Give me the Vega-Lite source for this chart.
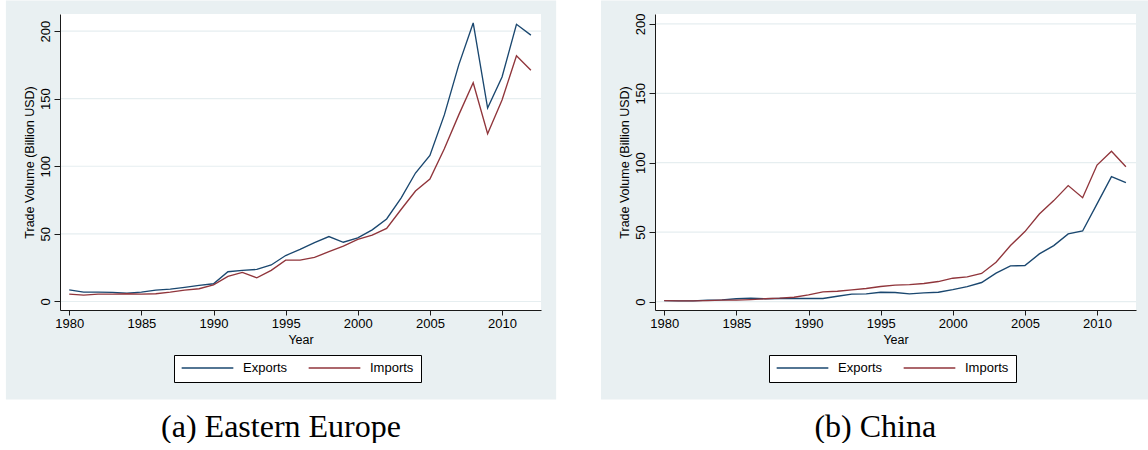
{
  "$schema": "https://vega.github.io/schema/vega-lite/v6.json",
  "background": "white",
  "padding": {"left": 5, "top": 0, "right": 0, "bottom": 0},
  "spacing": 44,
  "datasets": {
    "grid": [{"v": 0}, {"v": 50}, {"v": 100}, {"v": 150}, {"v": 200}],
    "ee": [
      {"Year": 1980, "Exports": 8.6, "Imports": 5.4},
      {"Year": 1981, "Exports": 6.9, "Imports": 4.7},
      {"Year": 1982, "Exports": 6.9, "Imports": 5.4},
      {"Year": 1983, "Exports": 6.7, "Imports": 5.4},
      {"Year": 1984, "Exports": 6.2, "Imports": 5.7},
      {"Year": 1985, "Exports": 6.9, "Imports": 5.4},
      {"Year": 1986, "Exports": 8.4, "Imports": 5.7},
      {"Year": 1987, "Exports": 9.1, "Imports": 6.9},
      {"Year": 1988, "Exports": 10.4, "Imports": 8.4},
      {"Year": 1989, "Exports": 11.9, "Imports": 9.4},
      {"Year": 1990, "Exports": 13.1, "Imports": 12.3},
      {"Year": 1991, "Exports": 22.0, "Imports": 18.5},
      {"Year": 1992, "Exports": 23.0, "Imports": 21.5},
      {"Year": 1993, "Exports": 23.7, "Imports": 17.5},
      {"Year": 1994, "Exports": 27.0, "Imports": 23.0},
      {"Year": 1995, "Exports": 34.0, "Imports": 30.6},
      {"Year": 1996, "Exports": 38.5, "Imports": 30.6},
      {"Year": 1997, "Exports": 43.5, "Imports": 32.6},
      {"Year": 1998, "Exports": 48.0, "Imports": 36.8},
      {"Year": 1999, "Exports": 43.8, "Imports": 41.0},
      {"Year": 2000, "Exports": 47.0, "Imports": 46.0},
      {"Year": 2001, "Exports": 53.0, "Imports": 49.0},
      {"Year": 2002, "Exports": 61.0, "Imports": 54.0},
      {"Year": 2003, "Exports": 76.5, "Imports": 68.0},
      {"Year": 2004, "Exports": 95.0, "Imports": 81.7},
      {"Year": 2005, "Exports": 108.0, "Imports": 90.6},
      {"Year": 2006, "Exports": 138.0, "Imports": 113.0},
      {"Year": 2007, "Exports": 175.0, "Imports": 138.0},
      {"Year": 2008, "Exports": 206.0, "Imports": 161.7},
      {"Year": 2009, "Exports": 143.0, "Imports": 124.0},
      {"Year": 2010, "Exports": 166.0, "Imports": 149.0},
      {"Year": 2011, "Exports": 205.0, "Imports": 181.7},
      {"Year": 2012, "Exports": 197.0, "Imports": 171.0}
    ],
    "cn": [
      {"Year": 1980, "Exports": 0.7, "Imports": 0.7},
      {"Year": 1981, "Exports": 0.5, "Imports": 0.5},
      {"Year": 1982, "Exports": 0.5, "Imports": 0.5},
      {"Year": 1983, "Exports": 1.0, "Imports": 0.7},
      {"Year": 1984, "Exports": 1.2, "Imports": 1.0},
      {"Year": 1985, "Exports": 2.0, "Imports": 1.0},
      {"Year": 1986, "Exports": 2.4, "Imports": 1.4},
      {"Year": 1987, "Exports": 2.0, "Imports": 2.0},
      {"Year": 1988, "Exports": 2.2, "Imports": 2.4},
      {"Year": 1989, "Exports": 2.2, "Imports": 3.1},
      {"Year": 1990, "Exports": 2.2, "Imports": 4.8},
      {"Year": 1991, "Exports": 2.2, "Imports": 7.0},
      {"Year": 1992, "Exports": 3.8, "Imports": 7.4},
      {"Year": 1993, "Exports": 5.3, "Imports": 8.4},
      {"Year": 1994, "Exports": 5.5, "Imports": 9.4},
      {"Year": 1995, "Exports": 6.7, "Imports": 10.8},
      {"Year": 1996, "Exports": 6.5, "Imports": 11.8},
      {"Year": 1997, "Exports": 5.5, "Imports": 12.2},
      {"Year": 1998, "Exports": 6.2, "Imports": 13.0},
      {"Year": 1999, "Exports": 6.7, "Imports": 14.4},
      {"Year": 2000, "Exports": 8.6, "Imports": 16.8},
      {"Year": 2001, "Exports": 10.8, "Imports": 17.8},
      {"Year": 2002, "Exports": 13.7, "Imports": 20.2},
      {"Year": 2003, "Exports": 20.4, "Imports": 28.3},
      {"Year": 2004, "Exports": 25.7, "Imports": 40.3},
      {"Year": 2005, "Exports": 25.9, "Imports": 50.4},
      {"Year": 2006, "Exports": 34.3, "Imports": 63.0},
      {"Year": 2007, "Exports": 40.3, "Imports": 72.7},
      {"Year": 2008, "Exports": 48.7, "Imports": 83.5},
      {"Year": 2009, "Exports": 50.8, "Imports": 74.8},
      {"Year": 2010, "Exports": 70.3, "Imports": 98.3},
      {"Year": 2011, "Exports": 90.0, "Imports": 108.2},
      {"Year": 2012, "Exports": 85.6, "Imports": 97.1}
    ]
  },
  "resolve": {
    "legend": {"color": "independent"},
    "scale": {"x": "independent", "y": "independent", "color": "independent"}
  },
  "config": {
    "view": {"stroke": null},
    "font": "Liberation Sans",
    "axis": {
      "domainColor": "#1a1a1a",
      "tickColor": "#1a1a1a",
      "labelColor": "#000000",
      "titleColor": "#000000",
      "labelFont": "Liberation Sans",
      "titleFont": "Liberation Sans",
      "labelFontSize": 13,
      "titleFontSize": 12.5,
      "titleFontWeight": "normal",
      "domainWidth": 1,
      "tickWidth": 1
    },
    "title": {
      "font": "Liberation Serif",
      "fontSize": 32,
      "fontWeight": "normal",
      "color": "#000000"
    },
    "legend": {
      "orient": "none",
      "legendX": 114,
      "legendY": 341,
      "direction": "horizontal",
      "symbolType": "stroke",
      "symbolSize": 2670,
      "symbolStrokeWidth": 1.3,
      "clipHeight": 12,
      "padding": 7,
      "labelOffset": 9,
      "columnPadding": 20,
      "strokeColor": "#000000",
      "fillColor": "#ffffff",
      "labelFont": "Liberation Sans",
      "labelFontSize": 13,
      "labelColor": "#000000"
    }
  },
  "hconcat": [
    {
      "width": 481,
      "height": 296,
      "title": {"text": "(a) Eastern Europe", "orient": "bottom", "anchor": "middle", "frame": "bounds", "offset": 12},
      "layer": [
        {
          "data": {"values": [{}]},
          "mark": {"type": "rect", "clip": false, "color": "#E9F0F2"},
          "encoding": {
            "x": {"datum": 1975.61, "type": "quantitative"},
            "x2": {"datum": 2013.75},
            "y": {"datum": 222.6, "type": "quantitative"},
            "y2": {"datum": -72.5}
          }
        },
        {
          "data": {"values": [{}]},
          "mark": {"type": "rect", "clip": false, "color": "#ffffff"},
          "encoding": {
            "x": {"datum": 1979.36, "type": "quantitative"},
            "x2": {"datum": 2012.7},
            "y": {"datum": 212.6, "type": "quantitative"},
            "y2": {"datum": -6.3}
          }
        },
        {
          "data": {"name": "grid"},
          "mark": {"type": "rule", "color": "#E6EEF0", "strokeWidth": 1.2},
          "encoding": {
            "x": {"datum": 1979.36, "type": "quantitative"},
            "x2": {"datum": 2012.7},
            "y": {"field": "v", "type": "quantitative", "title": "Trade Volume (Billion USD)"}
          }
        },
        {
          "data": {"name": "ee"},
          "transform": [{"fold": ["Exports", "Imports"], "as": ["Series", "Value"]}],
          "mark": {"type": "line", "strokeWidth": 1.35},
          "encoding": {
            "x": {
              "field": "Year", "type": "quantitative",
              "scale": {"domain": [1979.36, 2012.7], "nice": false, "zero": false},
              "axis": {"title": "Year", "zindex": 1, "values": [1980, 1985, 1990, 1995, 2000, 2005, 2010], "format": "d", "grid": false, "tickSize": 5, "labelPadding": 2, "titlePadding": 3, "labelFlush": false}
            },
            "y": {
              "field": "Value", "type": "quantitative", "title": "Trade Volume (Billion USD)",
              "scale": {"domain": [-6.3, 212.6], "nice": false, "zero": false},
              "axis": {"title": "Trade Volume (Billion USD)", "zindex": 1, "values": [0, 50, 100, 150, 200], "grid": false, "tickSize": 6, "labelAngle": -90, "labelAlign": "center", "labelBaseline": "bottom", "labelPadding": 2, "titlePadding": 3}
            },
            "color": {
              "field": "Series", "type": "nominal",
              "scale": {"domain": ["Exports", "Imports"], "range": ["#1A476F", "#90353B"]},
              "legend": {"title": null}
            }
          }
        }
      ]
    },
    {
      "width": 481,
      "height": 296,
      "title": {"text": "(b) China", "orient": "bottom", "anchor": "middle", "frame": "bounds", "offset": 12},
      "layer": [
        {
          "data": {"values": [{}]},
          "mark": {"type": "rect", "clip": false, "color": "#E9F0F2"},
          "encoding": {
            "x": {"datum": 1975.62, "type": "quantitative"},
            "x2": {"datum": 2013.64},
            "y": {"datum": 216.9, "type": "quantitative"},
            "y2": {"datum": -70.6}
          }
        },
        {
          "data": {"values": [{}]},
          "mark": {"type": "rect", "clip": false, "color": "#ffffff"},
          "encoding": {
            "x": {"datum": 1979.36, "type": "quantitative"},
            "x2": {"datum": 2012.7},
            "y": {"datum": 207.1, "type": "quantitative"},
            "y2": {"datum": -6.1}
          }
        },
        {
          "data": {"name": "grid"},
          "mark": {"type": "rule", "color": "#E6EEF0", "strokeWidth": 1.2},
          "encoding": {
            "x": {"datum": 1979.36, "type": "quantitative"},
            "x2": {"datum": 2012.7},
            "y": {"field": "v", "type": "quantitative", "title": "Trade Volume (Billion USD)"}
          }
        },
        {
          "data": {"name": "cn"},
          "transform": [{"fold": ["Exports", "Imports"], "as": ["Series", "Value"]}],
          "mark": {"type": "line", "strokeWidth": 1.35},
          "encoding": {
            "x": {
              "field": "Year", "type": "quantitative",
              "scale": {"domain": [1979.36, 2012.7], "nice": false, "zero": false},
              "axis": {"title": "Year", "zindex": 1, "values": [1980, 1985, 1990, 1995, 2000, 2005, 2010], "format": "d", "grid": false, "tickSize": 5, "labelPadding": 2, "titlePadding": 3, "labelFlush": false}
            },
            "y": {
              "field": "Value", "type": "quantitative", "title": "Trade Volume (Billion USD)",
              "scale": {"domain": [-6.1, 207.1], "nice": false, "zero": false},
              "axis": {"title": "Trade Volume (Billion USD)", "zindex": 1, "values": [0, 50, 100, 150, 200], "grid": false, "tickSize": 6, "labelAngle": -90, "labelAlign": "center", "labelBaseline": "bottom", "labelPadding": 2, "titlePadding": 3}
            },
            "color": {
              "field": "Series", "type": "nominal",
              "scale": {"domain": ["Exports", "Imports"], "range": ["#1A476F", "#90353B"]},
              "legend": {"title": null}
            }
          }
        }
      ]
    }
  ]
}
